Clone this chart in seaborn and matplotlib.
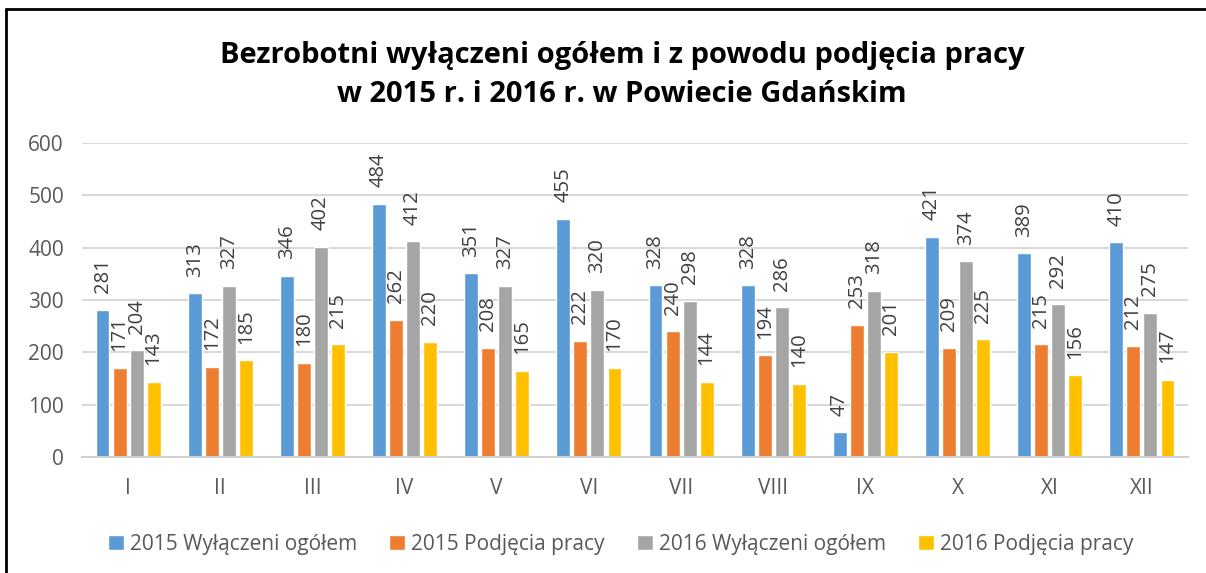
import matplotlib
matplotlib.use("Agg")
import matplotlib.pyplot as plt
import seaborn as sns
import pandas as pd
from matplotlib.lines import Line2D

months = ["I", "II", "III", "IV", "V", "VI", "VII", "VIII", "IX", "X", "XI", "XII"]
series_names = ["2015 Wyłączeni ogółem", "2015 Podjęcia pracy",
                "2016 Wyłączeni ogółem", "2016 Podjęcia pracy"]
w2015_total = [281, 313, 346, 484, 351, 455, 328, 328, 47, 421, 389, 410]
w2015_job = [171, 172, 180, 262, 208, 222, 240, 194, 253, 209, 215, 212]
w2016_total = [204, 327, 402, 412, 327, 320, 298, 286, 318, 374, 292, 275]
w2016_job = [143, 185, 215, 220, 165, 170, 144, 140, 201, 225, 156, 147]
colors = ["#5B9BD5", "#ED7D31", "#A5A5A5", "#FFC000"]
yticks = [0, 100, 200, 300, 400, 500, 600]

rows = []
for name, vals in zip(series_names, [w2015_total, w2015_job, w2016_total, w2016_job]):
    for m, v in zip(months, vals):
        rows.append({"month": m, "series": name, "value": v})
df = pd.DataFrame(rows)

sns.set_theme(style="white")
plt.rcParams["font.family"] = ["Open Sans", "DejaVu Sans"]

W, H = 1206, 573
fig = plt.figure(figsize=(W / 100, H / 100), dpi=100)
ax = fig.add_axes([82 / W, (H - 457) / H, (1188 - 82) / W, (457 - 143) / H])

sns.barplot(data=df, x="month", y="value", hue="series", order=months,
            hue_order=series_names, palette=colors, width=0.74, gap=0.18,
            ax=ax, legend=True, saturation=1, errorbar=None)

ax.set_ylim(0, 600)
ax.set_xlim(-0.5, 11.5)
ax.set_yticks(yticks)
ax.yaxis.grid(True, color="#D9D9D9", linewidth=1.5)
ax.set_axisbelow(True)
for s in ["top", "right", "left"]:
    ax.spines[s].set_visible(False)
ax.spines["bottom"].set_color("#D0D0D0")
ax.spines["bottom"].set_linewidth(1.5)
ax.set_xlabel("")
ax.set_ylabel("")
ax.tick_params(axis="both", length=0, labelsize=15, labelcolor="#595959")
ax.tick_params(axis="x", pad=15)
ax.tick_params(axis="y", pad=13)

for cont in ax.containers:
    for bar in cont:
        h = bar.get_height()
        ax.annotate(f"{int(round(h))}", (bar.get_x() + bar.get_width() / 2, h),
                    xytext=(0, 12), textcoords="offset points",
                    rotation=90, ha="center", va="bottom",
                    fontsize=14.6, color="#404040")

leg = ax.legend(loc="upper center", bbox_to_anchor=(0.487, -0.185), ncol=4,
                frameon=False, fontsize=15, handlelength=0.75, handleheight=0.75,
                handletextpad=0.3, columnspacing=1.55)
for t in leg.get_texts():
    t.set_color("#595959")

fig.text(622 / W, 1 - 75 / H, "Bezrobotni wyłączeni ogółem i z powodu podjęcia pracy\nw 2015 r. i 2016 r. w Powiecie Gdańskim",
         ha="center", va="center", fontsize=21, fontweight="bold",
         color="#000000", linespacing=1.45)

# frame lines (left and top)
fig.add_artist(Line2D([6 / W, 6 / W], [0, 1 - 9 / H], color="black", lw=2, transform=fig.transFigure))
fig.add_artist(Line2D([6 / W, 1], [1 - 9 / H, 1 - 9 / H], color="black", lw=2, transform=fig.transFigure))

fig.savefig("out.png", dpi=100)
